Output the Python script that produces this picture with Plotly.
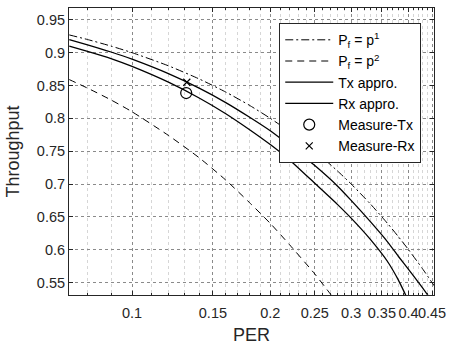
import plotly.graph_objects as go
import numpy as np

# PER sample positions
per = [0.073, 0.08, 0.09, 0.10, 0.12, 0.14, 0.16, 0.18, 0.20, 0.22, 0.25, 0.28, 0.30, 0.33, 0.36, 0.38, 0.40, 0.43, 0.455]

# P_f = p^1 (dash-dot)
thr_p1 = [0.927, 0.920, 0.910, 0.900, 0.880, 0.860, 0.840, 0.820, 0.800, 0.780, 0.750, 0.720, 0.700, 0.670, 0.640, 0.620, 0.600, 0.570, 0.545]

# P_f = p^2 (dashed)
per_p2 = [0.073, 0.08, 0.09, 0.10, 0.12, 0.14, 0.16, 0.18, 0.20, 0.22, 0.25, 0.27, 0.28]
thr_p2 = [0.859, 0.846, 0.828, 0.810, 0.774, 0.740, 0.706, 0.672, 0.640, 0.608, 0.563, 0.533, 0.518]

# Tx approximation (lower solid)
thr_tx = [0.910, 0.902, 0.891, 0.879, 0.855, 0.831, 0.807, 0.783, 0.760, 0.737, 0.701, 0.669, 0.648, 0.616, 0.582, 0.554, 0.522, 0.480, 0.450]

# Rx approximation (upper solid)
thr_rx = [0.920, 0.912, 0.901, 0.890, 0.868, 0.846, 0.824, 0.802, 0.781, 0.759, 0.728, 0.697, 0.675, 0.643, 0.612, 0.590, 0.570, 0.541, 0.517]

# Measurements
meas_tx_per = [0.1312]
meas_tx_thr = [0.8385]
meas_rx_per = [0.1316]
meas_rx_thr = [0.855]

x_ticks = [0.1, 0.15, 0.2, 0.25, 0.3, 0.35, 0.4, 0.45]
x_ticklabels = ["0.1", "0.15", "0.2", "0.25", "0.3", "0.35", "0.4", "0.45"]
y_ticks = [0.55, 0.6, 0.65, 0.7, 0.75, 0.8, 0.85, 0.9, 0.95]
y_ticklabels = ["0.55", "0.6", "0.65", "0.7", "0.75", "0.8", "0.85", "0.9", "0.95"]
x_minor = [0.08, 0.09, 0.11, 0.12, 0.13, 0.14, 0.16, 0.17, 0.18, 0.19, 0.21, 0.22, 0.23, 0.24,
           0.26, 0.27, 0.28, 0.29, 0.31, 0.32, 0.33, 0.34, 0.36, 0.37, 0.38, 0.39, 0.41, 0.42, 0.43, 0.44]

FONT = "Liberation Sans, Arial, sans-serif"
AX = "#262626"

fig = go.Figure()
fig.add_trace(go.Scatter(x=per, y=thr_p1, mode="lines", name="P<sub>f</sub> = p<sup>1</sup>",
                         line=dict(color="black", width=1, dash="8px,3px,2px,3px", shape="spline", smoothing=0.6)))
fig.add_trace(go.Scatter(x=per_p2, y=thr_p2, mode="lines", name="P<sub>f</sub> = p<sup>2</sup>",
                         line=dict(color="black", width=1, dash="7px,5px", shape="spline", smoothing=0.6)))
fig.add_trace(go.Scatter(x=per, y=thr_tx, mode="lines", name="Tx appro.",
                         line=dict(color="black", width=1.3, shape="spline", smoothing=0.6)))
fig.add_trace(go.Scatter(x=per, y=thr_rx, mode="lines", name="Rx appro.",
                         line=dict(color="black", width=1.3, shape="spline", smoothing=0.6)))
fig.add_trace(go.Scatter(x=meas_tx_per, y=meas_tx_thr, mode="markers", name="Measure-Tx",
                         marker=dict(symbol="circle-open", size=11, color="black", line=dict(width=1.2))))
fig.add_trace(go.Scatter(x=meas_rx_per, y=meas_rx_thr, mode="markers", name="Measure-Rx",
                         marker=dict(symbol="x-thin-open", size=7, color="black", line=dict(width=1.2))))

fig.update_layout(
    width=453, height=348,
    margin=dict(l=69, r=13, t=7, b=47),
    paper_bgcolor="white", plot_bgcolor="white",
    font=dict(family=FONT, size=14.5, color=AX),
    showlegend=True,
    legend=dict(x=0.576, y=0.947, xanchor="left", yanchor="top",
                bgcolor="white", bordercolor=AX, borderwidth=1,
                font=dict(family=FONT, size=14, color="black"),
                itemwidth=48, tracegroupgap=0),
    xaxis=dict(type="log", range=[np.log10(0.0729), np.log10(0.4545)],
               tickvals=x_ticks, ticktext=x_ticklabels, tickangle=0,
               ticks="inside", ticklen=4, tickcolor=AX, tickfont=dict(size=14.5, color=AX),
               ticklabelstandoff=5,
               showline=True, linecolor=AX, linewidth=1, mirror="ticks",
               showgrid=True, gridcolor="#8a8a8a", griddash="dot", gridwidth=1,
               minor=dict(tickvals=x_minor, ticks="inside", ticklen=2, tickcolor=AX,
                          showgrid=True, gridcolor="#d6d6d6", griddash="dot", gridwidth=1),
               title=dict(text="PER", font=dict(size=18, color=AX), standoff=7),
               zeroline=False),
    yaxis=dict(range=[0.531, 0.968],
               tickvals=y_ticks, ticktext=y_ticklabels,
               ticks="inside", ticklen=4, tickcolor=AX, tickfont=dict(size=14.5, color=AX),
               showline=True, linecolor=AX, linewidth=1, mirror="ticks",
               showgrid=True, gridcolor="#8a8a8a", griddash="dot", gridwidth=1,
               title=dict(text="Throughput", font=dict(size=18, color=AX), standoff=12),
               zeroline=False),
)

fig.write_html("out.html", config={"displayModeBar": False},
               post_script="document.body.style.margin='0';document.body.style.padding='0';")
